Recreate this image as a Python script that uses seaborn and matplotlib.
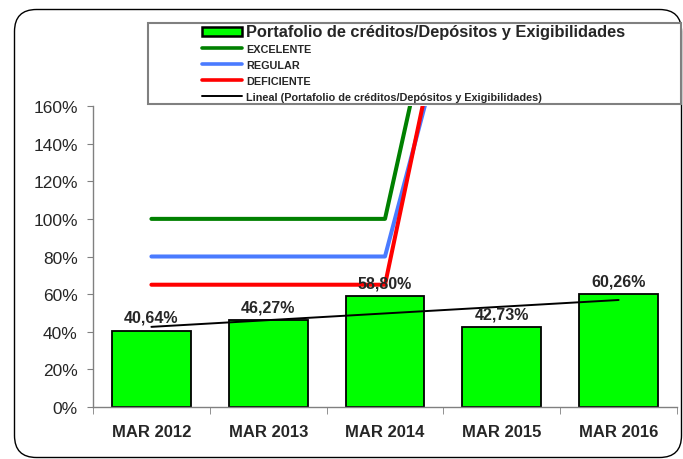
import matplotlib
matplotlib.use("Agg")
import matplotlib.pyplot as plt
import seaborn as sns
import numpy as np
import pandas as pd
from matplotlib.patches import FancyBboxPatch, Rectangle, Patch
from matplotlib.lines import Line2D
from matplotlib.ticker import FuncFormatter, FixedLocator

categories = ["MAR 2012", "MAR 2013", "MAR 2014", "MAR 2015", "MAR 2016"]
portafolio = [40.64, 46.27, 58.80, 42.73, 60.26]
excelente = [100, 100, 100, 380, 380]
regular = [80, 80, 80, 315, 315]
deficiente = [65, 65, 65, 360, 360]
series_names = ["Portafolio de créditos/Depósitos y Exigibilidades",
                "EXCELENTE", "REGULAR", "DEFICIENTE",
                "Lineal (Portafolio de créditos/Depósitos y Exigibilidades)"]
y_ticks = [0, 20, 40, 60, 80, 100, 120, 140, 160]

sns.set_style("white")
plt.rcParams["font.family"] = ["Liberation Sans", "DejaVu Sans"]

fig = plt.figure(figsize=(6.83, 4.60), dpi=100)
ax = fig.add_axes([93/683, 52/460, 584/683, 301/460])

df = pd.DataFrame({"cat": categories, "val": portafolio})
sns.barplot(data=df, x="cat", y="val", color="#00FF00", edgecolor="black",
            linewidth=1.3, width=0.675, saturation=1, ax=ax, zorder=2)

xs = np.arange(len(categories))
line_w = 2.9
ax.plot(xs, excelente, color="#008000", lw=line_w, zorder=3)
ax.plot(xs, regular, color="#4A7BFF", lw=line_w, zorder=3)
ax.plot(xs, deficiente, color="#FF0000", lw=line_w, zorder=3)

coef = np.polyfit(xs, portafolio, 1)
trend = np.polyval(coef, xs)
ax.plot(xs, trend, color="black", lw=1.4, zorder=4)

for x, v in zip(xs, portafolio):
    ax.annotate(f"{v:.2f}%".replace(".", ","), (x, v), xytext=(0, 4),
                textcoords="offset points", ha="center", va="bottom",
                fontsize=11.5, fontweight="bold", zorder=5)

ax.set_xlim(-0.5, len(categories) - 0.5)
ax.set_ylim(0, 160)
ax.yaxis.set_major_locator(FixedLocator(y_ticks))
ax.yaxis.set_major_formatter(FuncFormatter(lambda v, p: f"{v:.0f}%"))
ax.set_xlabel("")
ax.set_ylabel("")
ax.set_xticks(xs)
ax.set_xticklabels(categories, fontsize=12, fontweight="bold")
ax.tick_params(axis="x", length=0, pad=12)
ax.tick_params(axis="y", labelsize=12.5, length=4, color="#808080",
               direction="out", left=True, pad=7)
# category boundary ticks
ax.set_xticks(np.arange(-0.5, len(categories) + 0.5, 1), minor=True)
ax.tick_params(axis="x", which="minor", length=5, color="#808080", direction="out", bottom=True)

for s in ["top", "right"]:
    ax.spines[s].set_visible(False)
for s in ["left", "bottom"]:
    ax.spines[s].set_color("#808080")
    ax.spines[s].set_linewidth(1.0)

# figure rounded border
border = FancyBboxPatch((0.145, 0.015), 6.67, 4.48,
                        boxstyle="round,pad=0,rounding_size=0.22",
                        transform=fig.dpi_scale_trans, facecolor="none",
                        edgecolor="black", linewidth=1.0)
fig.add_artist(border)

# legend box
legbox = Rectangle((1.48, 3.55), 5.33, 0.81, transform=fig.dpi_scale_trans,
                   facecolor="white", edgecolor="#808080", linewidth=1.5, zorder=4)
fig.add_artist(legbox)

handles = [Patch(facecolor="#00FF00", edgecolor="black", linewidth=1.8),
           Line2D([], [], color="#008000", lw=2.6),
           Line2D([], [], color="#4A7BFF", lw=2.6),
           Line2D([], [], color="#FF0000", lw=2.6),
           Line2D([], [], color="black", lw=1.4)]
leg = fig.legend(handles, series_names, loc="upper left",
                 bbox_to_anchor=(202/683, 1 - 24.5/460), frameon=False,
                 prop={"size": 7.8, "weight": "bold"}, handlelength=3.7,
                 handleheight=0.85, handletextpad=0.37, labelspacing=0.53,
                 borderpad=0, borderaxespad=0)
leg.set_zorder(6)
leg.get_texts()[0].set_fontsize(11.8)

fig.savefig("out.png", dpi=100)
